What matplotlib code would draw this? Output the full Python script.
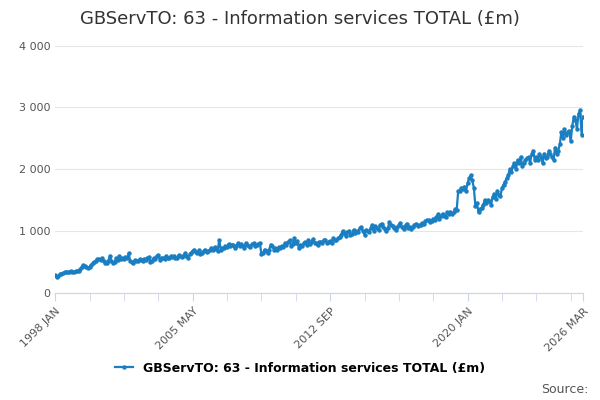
import matplotlib
matplotlib.use('Agg')
from matplotlib import pyplot as plt
import pandas as pd

title = 'GBServTO: 63 - Information services TOTAL (£m)'
series_name = 'GBServTO: 63 - Information services TOTAL (£m)'
values = [
    280, 250, 270, 300, 310, 320, 330, 340, 330, 340, 345, 335,
    340, 350, 345, 360, 380, 420, 450, 430, 410, 400, 420, 450,
    480, 500, 520, 540, 550, 530, 560, 520, 490, 480, 510, 600,
    520, 480, 500, 560, 530, 590, 550, 560, 540, 580, 560, 640,
    520, 500, 480, 530, 520, 510, 540, 530, 520, 550, 530, 560,
    580, 500, 520, 560, 540, 600, 610, 530, 560, 570, 550, 600,
    560, 570, 590, 580, 600, 570, 560, 610, 590, 580, 600, 640,
    600, 560, 620, 650, 680, 700, 660, 640, 690, 620, 650, 680,
    700, 660, 680, 690, 720, 700, 740, 710, 680, 850, 700, 730,
    720, 760, 740, 790, 750, 780, 770, 730, 760, 800, 760, 790,
    760, 730, 800, 780, 760, 740, 790, 800, 750, 770, 790, 810,
    620, 640, 700, 680, 650, 700, 780, 760, 700, 720, 690, 740,
    720, 760, 740, 800, 780, 820, 850, 760, 790, 880, 800, 840,
    720, 780, 760, 800, 820, 780, 850, 790, 830, 870, 810, 800,
    780, 820, 830, 800, 860, 850, 800, 830, 840, 810, 880, 850,
    850, 880, 900, 940, 1000, 960, 920, 980, 1000, 940, 950, 1020,
    960, 1000, 980, 1050, 1060, 1000, 940, 1020, 1000, 980, 1050, 1100,
    1000, 1080, 1050, 1020, 1100, 1120, 1060, 1040, 1000, 1050, 1150, 1100,
    1080, 1050, 1020, 1060, 1100, 1130, 1060, 1030, 1080, 1120, 1050, 1070,
    1030, 1060, 1100, 1120, 1080, 1090, 1100, 1130, 1120, 1160, 1180, 1170,
    1140, 1160, 1200, 1180, 1220, 1270, 1200, 1240, 1280, 1250, 1230, 1300,
    1280, 1310, 1270, 1300, 1350, 1340, 1650, 1640, 1700, 1680, 1720, 1650,
    1780, 1850, 1900, 1820, 1700, 1400, 1450, 1300, 1350, 1380, 1420, 1500,
    1450, 1500, 1480, 1420, 1550, 1600, 1520, 1650, 1580, 1560, 1700, 1750,
    1800, 1850, 1900, 2000, 1950, 2050, 2100, 2000, 2150, 2100, 2200, 2050,
    2100, 2150, 2180, 2200, 2100, 2250, 2300, 2150, 2200, 2150, 2250, 2200,
    2100, 2250, 2180, 2200, 2300, 2250, 2200, 2150, 2350, 2250, 2300, 2400,
    2600, 2500, 2650, 2550, 2600, 2620, 2450, 2700, 2850, 2800, 2650, 2900,
    2950, 2550, 2850,
]
labels = [d.strftime('%Y %b').upper() for d in pd.date_range('1998-01-01', periods=len(values), freq='MS')]
label_idx = [0, 88, 176, 264, 338]
y_ticks = [0, 1000, 2000, 3000, 4000]

fig = plt.figure(figsize=(6, 4), dpi=100)
ax = fig.add_axes([0.092, 0.268, 0.88, 0.618])
x = list(range(len(values)))
ax.plot(x, values, color='#1a7fc2', lw=1.6, marker='o', ms=2.2, label=series_name)
ax.set_xlim(0, len(values) - 1)
ax.set_ylim(0, 4000)
ax.set_yticks(y_ticks)
ax.set_yticklabels([f'{v:,}'.replace(',', ' ') for v in y_ticks], fontsize=8, color='#555555')
minor = list(range(0, len(values), 22))
ax.set_xticks(minor, minor=True)
ax.set_xticks(label_idx)
ax.set_xticklabels([labels[i] for i in label_idx], rotation=45, ha='right', rotation_mode='anchor', fontsize=8, color='#555555')
ax.tick_params(axis='x', which='both', length=6, color='#ccd6eb')
ax.tick_params(axis='y', length=0)
ax.grid(axis='y', color='#e6e6e6', lw=0.8)
for s in ['top', 'right', 'left']:
    ax.spines[s].set_visible(False)
ax.spines['bottom'].set_color('#ccd6eb')
fig.suptitle(title, x=0.5, y=0.975, fontsize=13, color='#333333')
fig.legend(loc='lower center', bbox_to_anchor=(0.5, 0.035), frameon=False, fontsize=9,
           prop={'weight': 'bold', 'size': 9}, handlelength=1.5)
fig.text(0.98, 0.01, 'Source:', ha='right', va='bottom', fontsize=9, color='#555555')
fig.savefig('out.png', dpi=100)
